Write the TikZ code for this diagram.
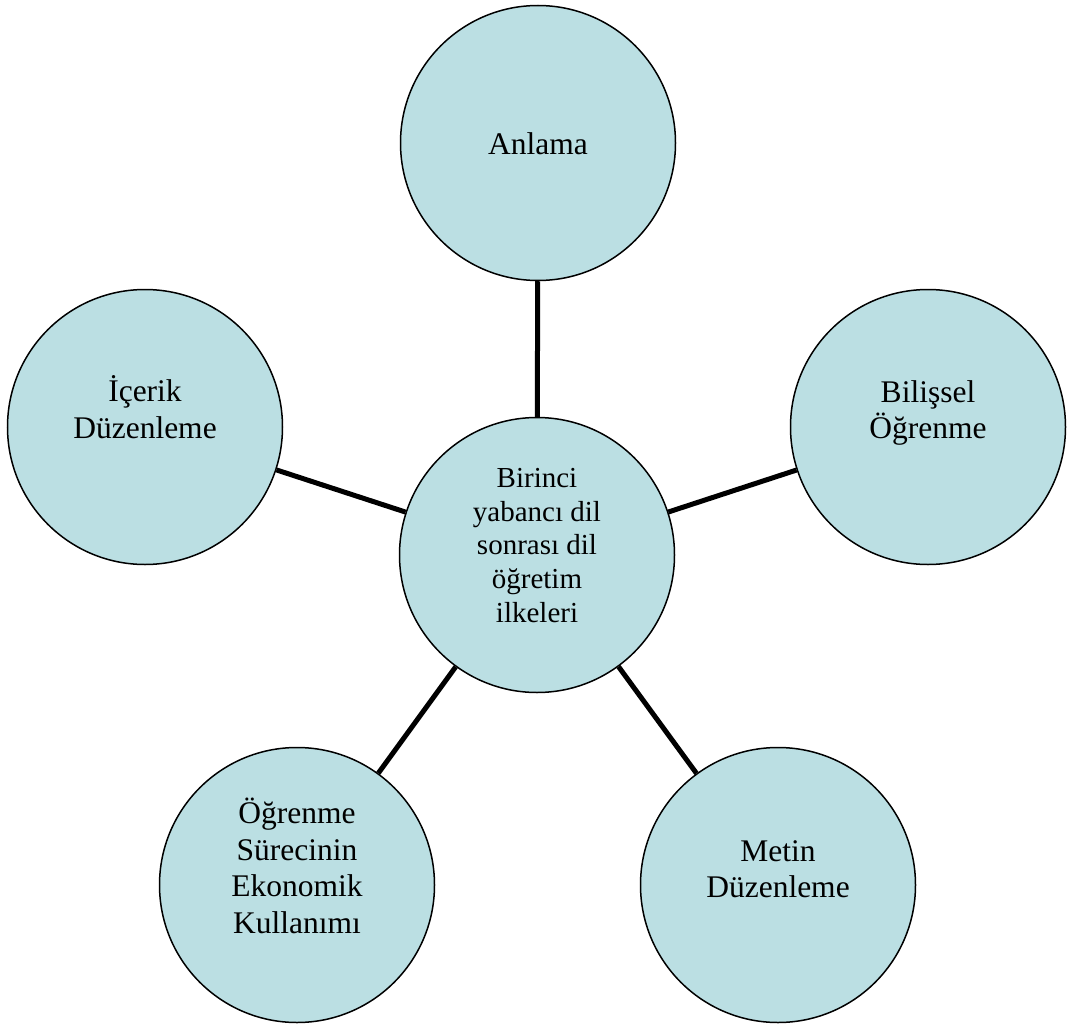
\documentclass[tikz,border=0pt]{standalone}
\usepackage{fontspec}
\setmainfont{Liberation Serif}
\definecolor{circfill}{HTML}{BBDFE3}
\begin{document}
\begin{tikzpicture}[x=1pt,y=-1pt,
  bubble/.style={circle,draw=black,line width=1.5pt,fill=circfill,minimum size=275pt,inner sep=0pt},
  txt/.style={align=center,inner sep=0pt,font=\fontsize{31.5}{36.5}\selectfont},
  hubtxt/.style={txt,font=\fontsize{29}{33.75}\selectfont},
  spoke/.style={line width=5pt,black}]
\useasboundingbox (0,0) rectangle (1072,1025);
\node[bubble] (c) at (537,555) {};
\node[bubble] (a) at (538,143) {};
\node[bubble] (b) at (928,427) {};
\node[bubble] (m) at (778,885) {};
\node[bubble] (o) at (297,885) {};
\node[bubble] (i) at (145,427) {};
\node[hubtxt] (ct) at ([yshift=9.5pt]c.center) {Birinci\\yabancı dil\\sonrası dil\\öğretim\\ilkeleri};
\node[txt] (at) at ([yshift=-1pt]a.center) {Anlama};
\node[txt] (bt) at ([yshift=14pt]b.center) {Bilişsel\\Öğrenme};
\node[txt] (mt) at ([yshift=16pt]m.center) {Metin\\Düzenleme};
\node[txt] (ot) at ([yshift=19pt]o.center) {Öğrenme\\Sürecinin\\Ekonomik\\Kullanımı};
\node[txt] (it) at ([yshift=20pt]i.center) {İçerik\\Düzenleme};
\draw[spoke] (c) -- (a);
\draw[spoke] (c) -- (b);
\draw[spoke] (c) -- (m);
\draw[spoke] (c) -- (o);
\draw[spoke] (c) -- (i);
\end{tikzpicture}
\end{document}
